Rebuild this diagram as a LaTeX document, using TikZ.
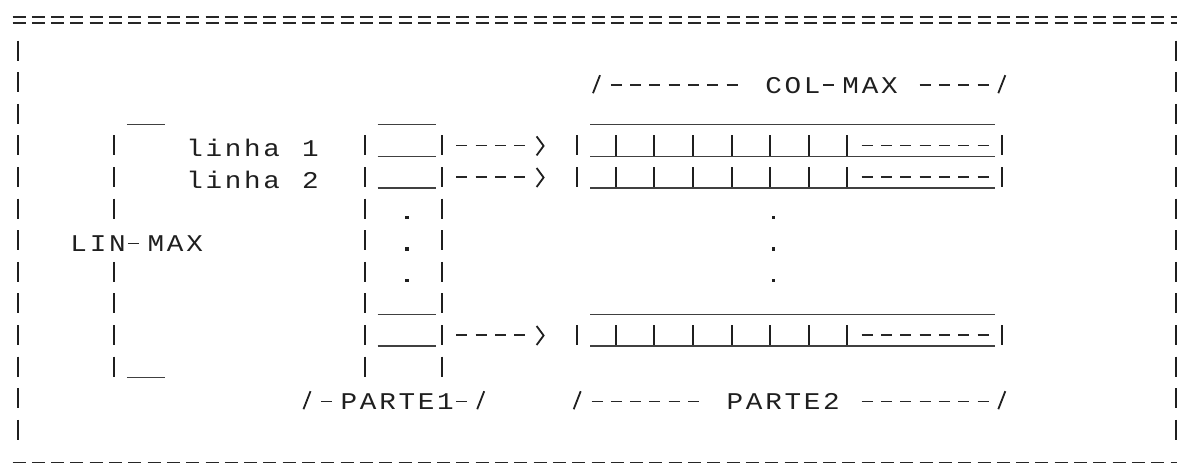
\documentclass[tikz,border=0pt]{standalone}
\usepackage{fontspec}
\newfontfamily\dotfont[FakeStretch=1.15]{Liberation Mono}
\newcommand\ch[1]{\makebox[19.3pt]{#1}}
\begin{document}
\begin{tikzpicture}[x=1pt,y=-1pt,
  declare function={gx(\c)=11+19.3*\c; gy(\r)=20+31.6*\r;},
  bar/.style={draw=black!88,line width=2pt},
  ubar/.style={draw=black!75,line width=1.1pt},
  dsh/.style={draw=black!85,line width=1.4pt,dash pattern=on 11pt off 8.3pt},
  eqd/.style={draw=black!85,line width=1.3pt,dash pattern=on 13pt off 6.3pt},
  slash/.style={draw=black!88,line width=1.8pt},
  chev/.style={draw=black!88,line width=1.8pt},
  dotm/.style={fill=black!88},
  glyph/.style={inner sep=0pt,anchor=base west,text=black!88,
    font=\dotfont\fontsize{24pt}{24pt}\selectfont},
]
\fill[white] (0,0) rectangle (1177,468);
\useasboundingbox (0,0) rectangle (1177,468);

% top and bottom borders
\draw[eqd] ({gx(0)+1.5},{gy(0)-3}) -- (1190,{gy(0)-3});
\draw[eqd] ({gx(0)+1.5},{gy(0)+3}) -- (1190,{gy(0)+3});
\draw[eqd] ({gx(0)+1.5},{gy(14)}) -- (1190,{gy(14)});

% side borders
\foreach \r in {1,...,13} {
  \draw[bar] ({gx(0)+6.5},{gy(\r)-11}) -- ++(0,20);
  \draw[bar] ({gx(60)+6.5},{gy(\r)-11}) -- ++(0,20);
}

% plain vertical bars
\foreach \c/\r in {5/4,5/5,5/6,5/8,5/9,5/10,5/11,
  18/4,18/5,18/6,18/7,18/8,18/9,18/10,18/11,
  22/4,22/5,22/6,22/7,22/8,22/9,22/10,22/11,
  29/4,29/5,29/10,51/4,51/5,51/10}
  \draw[bar] ({gx(\c)+6.5},{gy(\r)-11}) -- ++(0,20);

% inner cell bars of PARTE2
\foreach \r in {4,5,10}
  \foreach \c in {31,33,...,43}
    \draw[bar] ({gx(\c)+6.5},{gy(\r)-11}) -- ++(0,21);

% underscores
\foreach \r/\a/\b in {3/6/7,3/19/21,3/30/50,4/19/21,4/30/50,5/19/21,5/30/50,
  9/19/21,9/30/50,10/19/21,10/30/50,11/6/7}
  \draw[ubar] ({gx(\a)},{gy(\r)+10}) -- ({gx(\b+1)},{gy(\r)+10});

% dashes inside the PARTE2 rows
\foreach \r in {4,5,10}
  \draw[dsh] ({gx(44)+1.5},{gy(\r)-1}) -- ({gx(50)+12.5},{gy(\r)-1});

% dashes in the text rows
\foreach \r/\a/\b in {2/31/37,2/42/42,2/47/50,
  7/6/6,12/16/16,12/23/23,12/30/35,12/44/50}
  \draw[dsh] ({gx(\a)+1.5},{gy(\r)+2}) -- ({gx(\b)+12.5},{gy(\r)+2});

% slashes
\foreach \c/\r in {30/2,51/2,15/12,24/12,29/12,51/12}
  \draw[slash] ({gx(\c)+3},{gy(\r)+10}) -- ({gx(\c)+10},{gy(\r)-8});

% dots
\foreach \c in {20,39}
  \foreach \r in {6,7,8}
    \fill[dotm] ({gx(\c)+8},{gy(\r)+6}) rectangle ++(3.5,3.5);

% pointers from PARTE1 cells to PARTE2 rows
\foreach \r/\n in {4/a,5/b,10/c} {
  \coordinate (p\n) at ({gx(23)+1.5},{gy(\r)-1});
  \coordinate (q\n) at ({gx(26)+12.5},{gy(\r)-1});
  \draw[dsh] (p\n) -- (q\n);
  \draw[chev] ({gx(27)+4.5},{gy(\r)-10}) -- ({gx(27)+11.5},{gy(\r)-0.5})
    -- ({gx(27)+4.5},{gy(\r)+9});
}

% texts
\node[glyph] (colA) at ({gx(39)},{gy(2)+10}) {\ch{C}\ch{O}\ch{L}};
\node[glyph] (colB) at ({gx(43)},{gy(2)+10}) {\ch{M}\ch{A}\ch{X}};
\node[glyph] (l1) at ({gx(9)},{gy(4)+10}) {\ch{l}\ch{i}\ch{n}\ch{h}\ch{a}};
\node[glyph] (l1n) at ({gx(15)},{gy(4)+10}) {\ch{1}};
\node[glyph] (l2) at ({gx(9)},{gy(5)+10}) {\ch{l}\ch{i}\ch{n}\ch{h}\ch{a}};
\node[glyph] (l2n) at ({gx(15)},{gy(5)+10}) {\ch{2}};
\node[glyph] (linA) at ({gx(3)},{gy(7)+10}) {\ch{L}\ch{I}\ch{N}};
\node[glyph] (linB) at ({gx(7)},{gy(7)+10}) {\ch{M}\ch{A}\ch{X}};
\node[glyph] (parte1) at ({gx(17)},{gy(12)+10}) {\ch{P}\ch{A}\ch{R}\ch{T}\ch{E}\ch{1}};
\node[glyph] (parte2) at ({gx(37)},{gy(12)+10}) {\ch{P}\ch{A}\ch{R}\ch{T}\ch{E}\ch{2}};
\end{tikzpicture}
\end{document}
